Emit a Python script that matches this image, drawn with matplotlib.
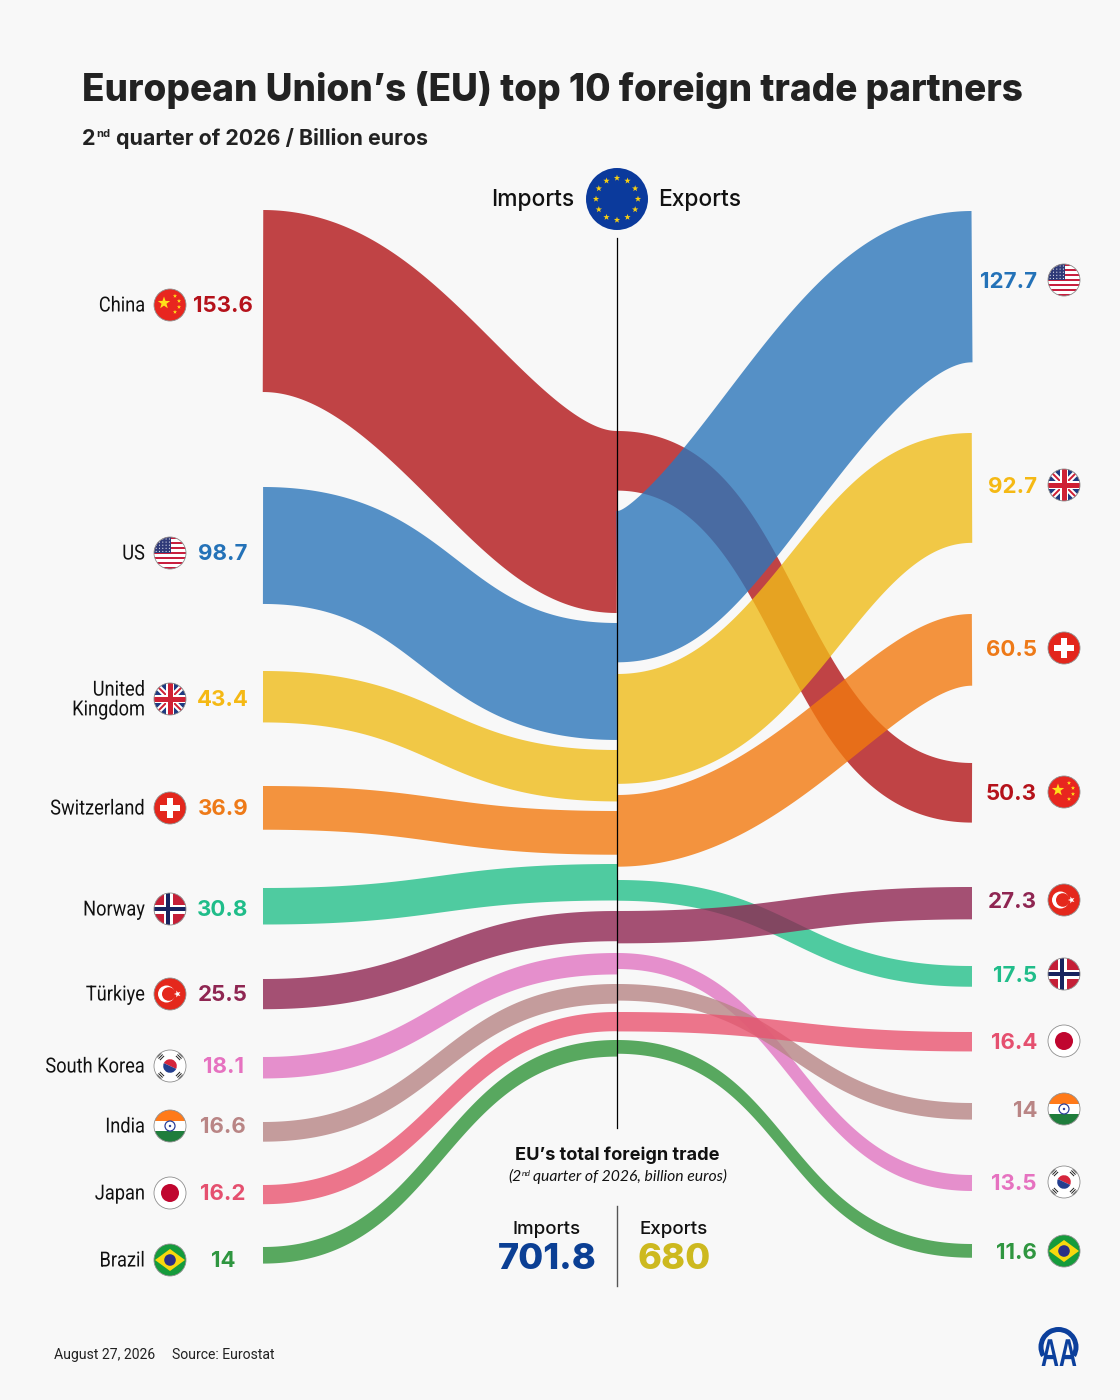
import numpy as np
import matplotlib
matplotlib.use('Agg')
import matplotlib.pyplot as plt
import matplotlib.patheffects as pe
from matplotlib.patches import Circle,Rectangle,Polygon,Wedge
from matplotlib.transforms import Affine2D

partners=['China','US','United\nKingdom','Switzerland','Norway','Türkiye','South Korea','India','Japan','Brazil']
imports=[153.6,98.7,43.4,36.9,30.8,25.5,18.1,16.6,16.2,14]
exports=[50.3,127.7,92.7,60.5,17.5,27.3,13.5,14,16.4,11.6]
flags=['cn','us','uk','ch','no','tr','kr','in','jp','br']
total_imports=701.8
total_exports=680

colors=['#b21618','#2c76ba','#f0bc1a','#f27a0f','#25c08a','#8f2652','#e175c2','#b78585','#e95470','#309439']
label_colors=['#b5121b','#2472b8','#f5b914','#ee7a18','#20bd8a','#8f2652','#e672c0','#b98585','#e5506f','#2f9640']

# layout, pixels from top left
px_per_unit=1.185
xl,xc,xr=263,617,972
left_top=[210,487,671,786,888,979,1057,1122,1185,1247]
mid_in_top=[431,623,750,811,864,911,953,984,1012,1040]
mid_out_top=[431,511,674,795,880,911,953,984,1012,1040]
right_top=[763,211,433,614,966,887,1175,1103,1032,1244]
left_y=[305,553,699,808,909,994,1066,1126,1193,1260]
right_y=[792,280,485,648,974,900,1182,1109,1041,1251]
# curve handles per ribbon, the original curves were not all alike
left_a=[0.42,0.5,0.5,0.5,0.5,0.5,0.5,0.5,0.5,0.5]
left_b=[0.68,0.5,0.5,0.5,0.5,0.5,0.5,0.5,0.5,0.5]
right_a=[0.5,0.3,0.5,0.45,0.5,0.5,0.5,0.5,0.5,0.5]
right_b=[0.47,0.6,0.6,0.75,0.5,0.5,0.5,0.5,0.5,0.45]
right_f=[0.3,0.5,0.4,0.35,0.3,0.3,0.3,0.3,0.3,0.3]

HEAD='Inter'
BG='#f8f8f8'

fig=plt.figure(figsize=(11.2,14),dpi=100,facecolor=BG)
ax=fig.add_axes([0,0,1,1])
ax.set_xlim(0,1120)
ax.set_ylim(1400,0)
ax.axis('off')

class Squeeze(pe.AbstractPathEffect):
    # narrows a text around x0, no condensed face installed
    def __init__(self,x0,k):
        super().__init__()
        self.x0=x0
        self.k=k
    def draw_path(self,renderer,gc,tpath,affine,rgbFace=None):
        a=affine+Affine2D().translate(-self.x0,0).scale(self.k,1).translate(self.x0,0)
        renderer.draw_path(gc,tpath,a,rgbFace)

def ribbon(x0,y0,x1,y1,h,color,z,a=0.5,b=0.5,f=0.3):
    # centre bezier, edges pushed sideways where steep (part way to a real stroke)
    t=np.linspace(0,1,160)
    w=x1-x0
    xa,xb=x0+w*a,x0+w*b
    yc0,yc1=y0+h/2,y1+h/2
    x=(1-t)**3*x0+3*t*(1-t)**2*xa+3*t**2*(1-t)*xb+t**3*x1
    y=(1-t)**3*yc0+3*t*(1-t)**2*yc0+3*t**2*(1-t)*yc1+t**3*yc1
    dx=np.gradient(x)
    dy=np.gradient(y)
    s=dy/np.hypot(dx,dy)*f*h/2
    ex=np.r_[x+s,(x-s)[::-1]]
    ey=np.r_[y-h/2,(y+h/2)[::-1]]
    ax.fill(ex,ey,fc=color,ec='none',alpha=0.8,zorder=z)

def star(cx,cy,r,color,z,rot=0):
    a=np.radians(np.arange(10)*36-90+rot)
    rr=np.where(np.arange(10)%2==0,r,r*0.4)
    ax.add_patch(Polygon(np.c_[cx+rr*np.cos(a),cy+rr*np.sin(a)],fc=color,ec='none',zorder=z))

def flag(cx,cy,name,r=16):
    z=5
    base=Circle((cx,cy),r,fc='white',ec='none',zorder=z)
    ax.add_patch(base)
    def add(p):
        ax.add_patch(p)
        p.set_clip_path(base)
        return p
    def rect(x,y,w,h,c,lev=1):
        return add(Rectangle((cx+x,cy+y),w,h,fc=c,ec='none',zorder=z+lev*0.1))
    def band(p0,p1,w,c,lev=1):
        a=np.array(p0,float)*r
        b=np.array(p1,float)*r
        n=np.array([-(b-a)[1],(b-a)[0]])
        n=n/np.hypot(*n)*w/2
        pts=np.array([a+n,b+n,b-n,a-n])+[cx,cy]
        return add(Polygon(pts,fc=c,ec='none',zorder=z+lev*0.1))
    if name=='cn':
        rect(-r,-r,2*r,2*r,'#e8261f')
        star(cx-6,cy-2,6.5,'#ffe01a',z+0.2)
        for dx,dy in [(5,-9),(9,-4),(9,2),(5,7)]:
            star(cx+dx,cy+dy,2.2,'#ffe01a',z+0.2)
    elif name=='us':
        for i in range(13):
            rect(-r,-r+i*2*r/13,2*r,2*r/13+0.2,'#c8203f' if i%2==0 else 'white')
        rect(-r,-r,r*1.05,r*0.98,'#2f3a78',2)
        for i in range(5):
            for j in range(5):
                add(Circle((cx-r+2.2+j*3.3,cy-r+2+i*3.1),0.55,fc='white',ec='none',zorder=z+0.3))
    elif name=='uk':
        rect(-r,-r,2*r,2*r,'#1f3a80')
        band((-1,-1),(1,1),6,'white',2)
        band((-1,1),(1,-1),6,'white',2)
        band((-1,-1),(1,1),2,'#cf2035',3)
        band((-1,1),(1,-1),2,'#cf2035',3)
        rect(-r,-4,2*r,8,'white',4)
        rect(-4,-r,8,2*r,'white',4)
        rect(-r,-2.5,2*r,5,'#cf2035',5)
        rect(-2.5,-r,5,2*r,'#cf2035',5)
    elif name=='ch':
        rect(-r,-r,2*r,2*r,'#e3261c')
        rect(-10,-3.4,20,6.8,'white',2)
        rect(-3.4,-10,6.8,20,'white',2)
    elif name=='no':
        rect(-r,-r,2*r,2*r,'#c51f37')
        rect(-r,-4.5,2*r,9,'white',2)
        rect(-6.5,-r,9,2*r,'white',2)
        rect(-r,-2.3,2*r,4.6,'#18235f',3)
        rect(-4.3,-r,4.6,2*r,'#18235f',3)
    elif name=='tr':
        rect(-r,-r,2*r,2*r,'#e4281c')
        add(Circle((cx-3.5,cy),8.5,fc='white',ec='none',zorder=z+0.2))
        add(Circle((cx-1.2,cy),6.8,fc='#e4281c',ec='none',zorder=z+0.3))
        star(cx+7.5,cy,3.6,'white',z+0.4,rot=-90)
    elif name=='kr':
        add(Wedge((cx,cy),6.8,-155,25,fc='#d5263c',ec='none',zorder=z+0.2))
        add(Wedge((cx,cy),6.8,25,205,fc='#243f8f',ec='none',zorder=z+0.2))
        for sx,sy in [(-1,-1),(1,-1),(-1,1),(1,1)]:
            for q in [0.5,0.59,0.68]:
                band((sx*q-sy*0.13,sy*q+sx*0.13),(sx*q+sy*0.13,sy*q-sx*0.13),1.0,'#222222',2)
    elif name=='in':
        rect(-r,-r,2*r,2*r/3,'#ff7a1a')
        rect(-r,r/3,2*r,2*r/3,'#1f7d3c')
        add(Circle((cx,cy),5,fc='white',ec='#2c3f99',lw=0.9,zorder=z+0.2))
        add(Circle((cx,cy),1.2,fc='#2c3f99',ec='none',zorder=z+0.2))
    elif name=='jp':
        add(Circle((cx,cy),9,fc='#c0062f',ec='none',zorder=z+0.2))
    elif name=='br':
        rect(-r,-r,2*r,2*r,'#159b3c')
        add(Polygon([(cx-15,cy),(cx,cy-11),(cx+15,cy),(cx,cy+11)],fc='#f8d80e',ec='none',zorder=z+0.2))
        add(Circle((cx,cy),5.8,fc='#2b2f86',ec='none',zorder=z+0.3))
    ax.add_patch(Circle((cx,cy),r,fc='none',ec='#8f8f8f',lw=0.6,zorder=z+0.6))

for i in range(len(partners)):
    ribbon(xl,left_top[i],xc,mid_in_top[i],imports[i]*px_per_unit,colors[i],2+i*0.01,a=left_a[i],b=left_b[i])
    ribbon(xc,mid_out_top[i],xr,right_top[i],exports[i]*px_per_unit,colors[i],2+i*0.01,a=right_a[i],b=right_b[i],f=right_f[i])
    ax.text(145,left_y[i]+1,partners[i],ha='right',va='center',family='Roboto',fontsize=15,color='#111111',linespacing=1.05,zorder=6,
            path_effects=[Squeeze(145,0.875)])
    flag(170,left_y[i],flags[i])
    flag(1064,right_y[i],flags[i])
    ax.text(223,left_y[i]+1,f'{imports[i]:g}',ha='center',va='center',family=HEAD,fontweight='bold',fontsize=16,color=label_colors[i],zorder=6)
    ax.text(1037,right_y[i]+2,f'{exports[i]:g}',ha='right',va='center',family=HEAD,fontweight='bold',fontsize=16,color=label_colors[i],zorder=6)

ax.plot([xc,xc],[238,1128],color='black',lw=0.9,zorder=4)

# title block
ax.text(82,101,"European Union’s (EU) top 10 foreign trade partners",family=HEAD,fontweight=800,fontsize=26.6,color='#222222',va='baseline')
ax.text(82,145,'2',family=HEAD,fontweight='bold',fontsize=15.5,color='#222222',va='baseline')
ax.text(96,137,'nd',family=HEAD,fontweight='bold',fontsize=8,color='#222222',va='baseline')
ax.text(116,145,'quarter of 2026 / Billion euros',family=HEAD,fontweight='bold',fontsize=15.4,color='#222222',va='baseline')

# EU header
ax.text(574,206,'Imports',ha='right',va='baseline',family=HEAD,fontweight='medium',fontsize=16.4,color='#111111')
ax.text(658,206,'Exports',ha='left',va='baseline',family=HEAD,fontweight='medium',fontsize=16.4,color='#111111')
ax.add_patch(Circle((617,199),31,fc='#0b3a9c',ec='none',zorder=5))
for k in range(12):
    a=np.radians(k*30)
    star(617+21*np.cos(a),199+21*np.sin(a),3.3,'#f8cf12',6)

# totals
ax.text(617,1160,'EU’s total foreign trade',ha='center',va='baseline',family=HEAD,fontweight='bold',fontsize=13.1,color='#111111')
ax.text(508,1181,'(2',ha='left',va='baseline',family='Lato',style='italic',fontsize=11.3,color='#111111')
ax.text(522,1176,'nd',ha='left',va='baseline',family='Lato',style='italic',fontsize=6,color='#111111')
ax.text(533,1181,'quarter of 2026, billion euros)',ha='left',va='baseline',family='Lato',style='italic',fontsize=11.3,color='#111111')
ax.plot([617,617],[1206,1286],color='#555555',lw=1)
ax.text(547,1234,'Imports',ha='center',va='baseline',family=HEAD,fontweight='medium',fontsize=13.5,color='#111111')
ax.text(674,1234,'Exports',ha='center',va='baseline',family=HEAD,fontweight='medium',fontsize=13.5,color='#111111')
ax.text(547,1269,f'{total_imports:g}',ha='center',va='baseline',family=HEAD,fontweight='heavy',fontsize=26,color='#0b3f94')
ax.text(674,1269,f'{total_exports:g}',ha='center',va='baseline',family=HEAD,fontweight='heavy',fontsize=26,color='#cdb91f')

# footer
ax.text(54,1355,'August 27, 2026',ha='left',va='center',family='Roboto',fontsize=10.1,color='#222222')
ax.text(172,1355,'Source: Eurostat',ha='left',va='center',family='Roboto',fontsize=10.1,color='#222222')

# AA logo
ax.add_patch(Wedge((1058.5,1347),20,150,390,width=5,fc='#0b3f9c',ec='none'))
ax.text(1059,1366,'AA',ha='center',va='baseline',family='Liberation Sans',fontweight='bold',fontsize=28,color='#0b3f9c',zorder=3,
        path_effects=[Squeeze(1059,0.64)])

fig.savefig('out.png',dpi=100,facecolor=BG)
